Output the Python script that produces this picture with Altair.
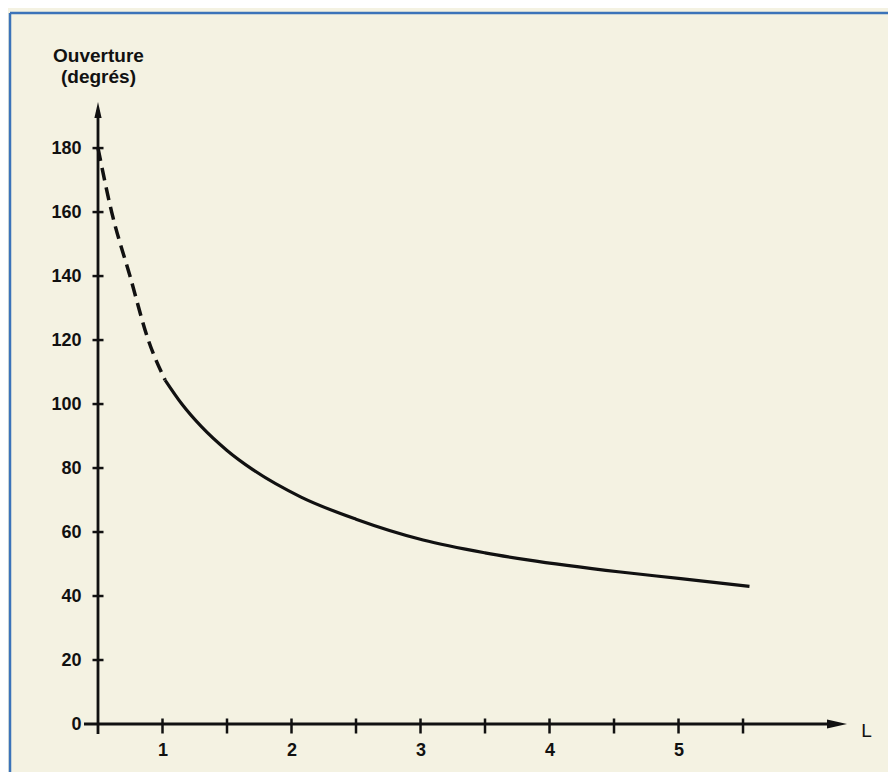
import altair as alt
import pandas as pd

# --- data ---
dash_L = [0.5, 0.606, 0.748, 0.89, 1.02]
dash_deg = [180, 160, 140, 120, 107.5]

solid_L = [1.02, 1.15, 1.30, 1.50, 1.70, 2.07, 2.50, 3.02, 3.50, 3.83, 4.55, 5.00, 5.55]
solid_deg = [107.5, 100.0, 93.0, 85.5, 79.5, 71.0, 64.0, 57.5, 53.5, 51.3, 47.5, 45.5, 43.0]

x_tick_values = [1, 1.5, 2, 2.5, 3, 3.5, 4, 4.5, 5, 5.5]
x_label_values = [1, 2, 3, 4, 5]
y_tick_values = [20, 40, 60, 80, 100, 120, 140, 160, 180]
y_label_values = [0, 20, 40, 60, 80, 100, 120, 140, 160, 180]

y_title = ["Ouverture", "(degrés)"]
x_title = "L"

W, H = 749, 622
FONT = "Liberation Sans"
INK = "#111111"
BG = "#f4f2e2"
FRAME = "#3b73b9"

xscale = alt.Scale(domain=[0.5, 6.306], nice=False, zero=False)
yscale = alt.Scale(domain=[0, 194.4], nice=False, zero=False)

x_axis = alt.Axis(values=x_label_values, domain=False, ticks=False, tickSize=0, grid=False,
                  labelPadding=17, labelFontSize=18, labelFont=FONT, labelColor=INK, format="d",
                  labelFontWeight="bold",
                  title=x_title, titleX=768, titleY=6, titleBaseline="middle", titleAlign="center",
                  titleAngle=0, titleFontSize=19, titleFont=FONT, titleFontWeight="normal",
                  titleColor=INK)
y_axis = alt.Axis(values=y_label_values, domain=False, ticks=False, tickSize=0, grid=False,
                  labelPadding=17, labelFontSize=18, labelFont=FONT, labelColor=INK, format="d",
                  labelFontWeight="bold",
                  title=y_title, titleAngle=0, titleX=0, titleY=-56, titleAlign="center",
                  titleBaseline="top", titleLineHeight=21, titleFontSize=19, titleFont=FONT,
                  titleFontWeight="bold", titleColor=INK)


def X(field):
    return alt.X(f"{field}:Q", scale=xscale, axis=x_axis)


def Y(field):
    return alt.Y(f"{field}:Q", scale=yscale, axis=y_axis)


dash_df = pd.DataFrame({"L": dash_L, "deg": dash_deg})
solid_df = pd.DataFrame({"L": solid_L, "deg": solid_deg})
xt_df = pd.DataFrame({"xt": x_tick_values})
yt_df = pd.DataFrame({"yt": y_tick_values})
one = pd.DataFrame({"k": [0]})

dashed = alt.Chart(dash_df).mark_line(
    color=INK, strokeWidth=3.5, strokeDash=[13, 7], strokeCap="butt", interpolate="monotone"
).encode(x=X("L"), y=Y("deg"))

solid = alt.Chart(solid_df).mark_line(
    color=INK, strokeWidth=3.2, interpolate="monotone"
).encode(x=X("L"), y=Y("deg"))

x_line = alt.Chart(one).mark_rule(color=INK, strokeWidth=2.8).encode(
    x=alt.value(-14), x2=alt.value(740), y=alt.value(H))
y_line = alt.Chart(one).mark_rule(color=INK, strokeWidth=2.8).encode(
    x=alt.value(0), y=alt.value(8), y2=alt.value(H + 10))

y_ticks = alt.Chart(yt_df).mark_tick(orient="horizontal", size=11, thickness=2.5, color=INK,
                                     opacity=1).encode(
    y=alt.Y("yt:Q", scale=yscale, axis=y_axis), x=alt.value(0))
x_ticks = alt.Chart(xt_df).mark_tick(orient="vertical", size=15, thickness=2.5, color=INK,
                                     opacity=1).encode(
    x=alt.X("xt:Q", scale=xscale, axis=x_axis), y=alt.value(H + 2))

arrow_up = alt.Chart(one).mark_point(
    shape="M0,-1L0.45,1L-0.45,1Z", size=256, filled=True, color=INK, opacity=1
).encode(x=alt.value(0), y=alt.value(8))
arrow_right = alt.Chart(one).mark_point(
    shape="M1,0L-1,-0.45L-1,0.45Z", size=400, filled=True, color=INK, opacity=1
).encode(x=alt.value(739), y=alt.value(H))

frame_left = alt.Chart(one).mark_rule(color=FRAME, strokeWidth=2.5).encode(
    x=alt.value(-88), y=alt.value(-89), y2=alt.value(700))
frame_top = alt.Chart(one).mark_rule(color=FRAME, strokeWidth=2.5).encode(
    x=alt.value(-88), x2=alt.value(800), y=alt.value(-89))

chart = alt.layer(
    frame_left, frame_top, x_line, y_line, y_ticks, x_ticks, arrow_up, arrow_right, dashed, solid
).properties(
    width=W, height=H,
    autosize=alt.AutoSizeParams(type="none"),
    padding={"left": 90, "top": 94, "right": 41, "bottom": 48},
    background=BG,
).configure_view(stroke=None)

chart.save("out.html", embed_options={"renderer": "svg", "actions": False})
